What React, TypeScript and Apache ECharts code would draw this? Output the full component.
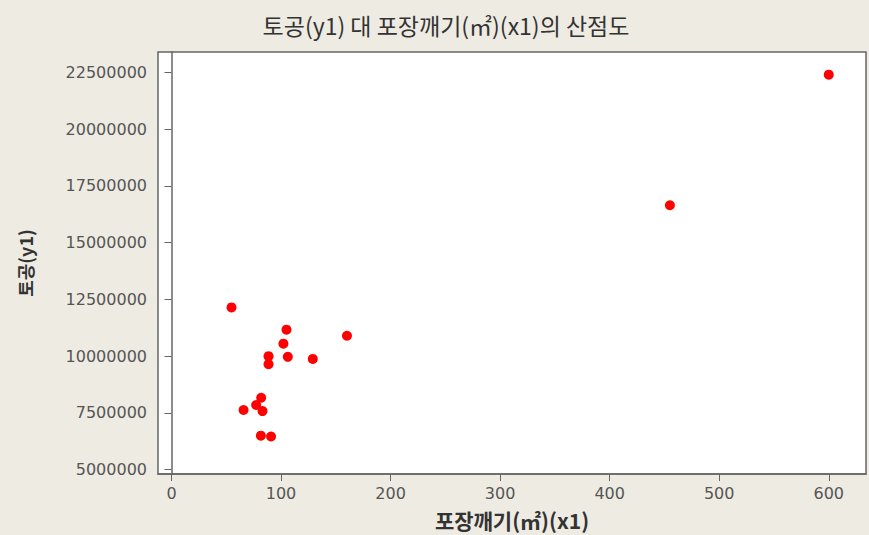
import React, { useEffect, useRef } from "react";
import * as echarts from "echarts";

const titleText = "토공(y1) 대 포장깨기(㎡)(x1)의 산점도";
const xName = "포장깨기(㎡)(x1)";
const yName = "토공(y1)";

const xValues = [54.8, 105, 160.2, 102.2, 88.6, 88.6, 106.2, 129, 81.9, 77.3, 65.8, 83.1, 81.6, 90.9, 455, 600];
const yValues = [12150000, 11170000, 10900000, 10550000, 10000000, 9650000, 9970000, 9880000, 8170000, 7850000, 7630000, 7580000, 6500000, 6460000, 16650000, 22400000];

const xTicks = [0, 100, 200, 300, 400, 500, 600];
const yTicks = [5000000, 7500000, 10000000, 12500000, 15000000, 17500000, 20000000, 22500000];

export default function App() {
  const ref = useRef<HTMLDivElement>(null);
  useEffect(() => {
    if (!ref.current) return;
    const chart = echarts.init(ref.current, undefined, { renderer: "svg" });
    const labelFont = { fontFamily: "DejaVu Sans", fontSize: 16, color: "#555" };
    chart.setOption({
      animation: false,
      backgroundColor: "#EEEBE3",
      title: {
        text: titleText,
        left: 446,
        textAlign: "center",
        top: 13,
        padding: 0,
        textStyle: { fontFamily: "Noto Sans CJK KR", fontSize: 23, fontWeight: "normal", color: "#333" },
      },
      grid: {
        left: 158,
        right: 3,
        top: 52,
        bottom: 59,
        show: true,
        backgroundColor: "#fff",
        borderColor: "#666",
        borderWidth: 1.5,
      },
      xAxis: {
        type: "value",
        min: -12.3,
        max: 634,
        name: xName,
        nameLocation: "middle",
        nameGap: 35,
        nameTextStyle: { fontFamily: "Noto Sans CJK KR", fontSize: 21, fontWeight: "bold", color: "#333" },
        axisLine: { show: true, lineStyle: { color: "#666", width: 1.5 } },
        axisTick: { show: true, length: 7, customValues: xTicks, lineStyle: { color: "#666" } },
        axisLabel: { ...labelFont, margin: 11, customValues: xTicks, formatter: (v: number) => String(v) },
        splitLine: { show: false },
      },
      yAxis: {
        type: "value",
        min: 4810000,
        max: 23400000,
        name: yName,
        nameLocation: "middle",
        nameGap: 124,
        nameTextStyle: { fontFamily: "Noto Sans CJK KR", fontSize: 18, fontWeight: "bold", color: "#333" },
        axisLine: { show: true, lineStyle: { color: "#666", width: 1.5 } },
        axisTick: { show: true, length: 7, customValues: yTicks, lineStyle: { color: "#666" } },
        axisLabel: { ...labelFont, margin: 11, customValues: yTicks, formatter: (v: number) => String(v) },
        splitLine: { show: false },
      },
      series: [
        {
          type: "scatter",
          symbol: "circle",
          symbolSize: 10,
          itemStyle: { color: "#f00", opacity: 1 },
          data: xValues.map((x, i) => [x, yValues[i]]),
        },
      ],
    });
    return () => chart.dispose();
  }, []);
  return (
    <div
      ref={ref}
      style={{ position: "fixed", left: 0, top: 0, width: 869, height: 535 }}
    />
  );
}
